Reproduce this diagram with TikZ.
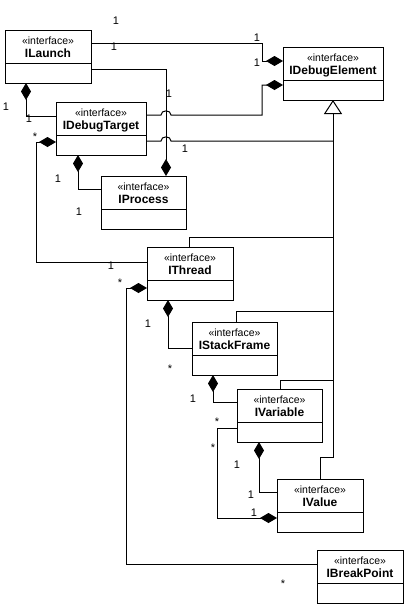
\documentclass[tikz,border=0pt]{standalone}
\usepackage{fontspec}
\setmainfont{Liberation Sans}
\usetikzlibrary{arrows.meta}
\tikzset{
  line/.style={line width=1pt},
  comp/.style={line, {Diamond[length=17pt,width=10pt,fill=black]}-},
  gen/.style={line, -{Triangle[open,length=14pt,width=18pt,fill=white]}},
  box/.style={draw, line width=1pt, minimum height=53pt, inner sep=0pt, outer sep=0pt, anchor=north west},
  stereo/.style={font=\fontsize{10.5}{12}\selectfont, anchor=base, inner sep=0pt},
  title/.style={font=\fontsize{12}{14}\selectfont\bfseries, anchor=base, inner sep=0pt},
  lbl/.style={font=\fontsize{11}{13}\selectfont, anchor=base, inner sep=0pt},
}
\newcommand\umlclass[5]{%
  \node[box, minimum width=#4] (#1) at (#2,#3) {};
  \node[stereo] (#1-s) at ([yshift=-14pt]#1.north) {«interface»};
  \node[title] (#1-t) at ([yshift=-27.5pt]#1.north) {#5};
  \draw[line] ([yshift=-33pt]#1.north west) -- ([yshift=-33pt]#1.north east);
}
\begin{document}
\begin{tikzpicture}[x=1pt,y=-1pt]
\useasboundingbox (0,0) rectangle (408,608);
% classes
\umlclass{L}{5}{30}{86pt}{ILaunch}
\umlclass{DT}{56}{102}{90pt}{IDebugTarget}
\umlclass{DE}{283}{47}{100pt}{IDebugElement}
\umlclass{P}{101}{176}{85pt}{IProcess}
\umlclass{T}{147}{247}{86pt}{IThread}
\umlclass{SF}{192}{322}{85pt}{IStackFrame}
\umlclass{V}{237}{389}{85pt}{IVariable}
\umlclass{VA}{277}{479}{86pt}{IValue}
\umlclass{BP}{317}{550}{86pt}{IBreakPoint}
% compositions
\draw[comp] (DE.west |- 0,61) -- (262,61) -- (262,43) -- (L.east |- 0,43);
\draw[comp] (DE.west |- 0,85) -- (262,85) -- (262,115) -- (171,115)
  .. controls (171,109.5) and (161,109.5) .. (161,115) -- (DT.east |- 0,115);
\draw[comp] (P.north -| 166,0) -- (166,69) -- (L.east |- 0,69);
\draw[comp] (L.south -| 26,0) -- (26,116) -- (DT.west |- 0,116);
\draw[comp] (DT.west |- 0,142) -- (36,142) -- (36,262) -- (T.west |- 0,262);
\draw[comp] (DT.south -| 78,0) -- (78,189) -- (P.west |- 0,189);
\draw[comp] (T.west |- 0,288) -- (126,288) -- (126,564) -- (BP.west |- 0,564);
\draw[comp] (T.south -| 168,0) -- (168,348) -- (SF.west |- 0,348);
\draw[comp] (SF.south -| 213,0) -- (213,402) -- (V.west |- 0,402);
\draw[comp] (VA.west |- 0,518) -- (217,518) -- (217,428) -- (V.west |- 0,428);
\draw[comp] (V.south -| 259,0) -- (259,492) -- (VA.west |- 0,492);
% generalizations
\draw[gen] (VA.north -| 320,0) -- (320,457) -- (333,457) -- (DE.south);
\draw[line] (DT.east |- 0,141) -- (161,141)
  .. controls (161,135.5) and (171,135.5) .. (171,141) -- (333,141);
\draw[line] (T.north -| 189,0) -- (189,237) -- (333,237);
\draw[line] (SF.north -| 236,0) -- (236,311) -- (333,311);
\draw[line] (V.north -| 280,0) -- (280,380) -- (333,380);
% multiplicities
\node[lbl] (m1) at (116,24) {1};
\node[lbl] (m2) at (114,50) {1};
\node[lbl] (m3) at (257,41) {1};
\node[lbl] (m4) at (257,66) {1};
\node[lbl] (m5) at (169,97) {1};
\node[lbl] (m6) at (185,152) {1};
\node[lbl] (m7) at (6,110) {1};
\node[lbl] (m8) at (29,122) {1};
\node[lbl] (m9) at (35,140) {*};
\node[lbl] (m10) at (58,182) {1};
\node[lbl] (m11) at (79,215) {1};
\node[lbl] (m12) at (111,269) {1};
\node[lbl] (m13) at (120,286) {*};
\node[lbl] (m14) at (148,327) {1};
\node[lbl] (m15) at (170,372) {*};
\node[lbl] (m16) at (193,402) {1};
\node[lbl] (m17) at (217,425) {*};
\node[lbl] (m18) at (213,451) {*};
\node[lbl] (m19) at (237,468) {1};
\node[lbl] (m20) at (251,498) {1};
\node[lbl] (m21) at (254,516) {1};
\node[lbl] (m22) at (283,587) {*};
\end{tikzpicture}
\end{document}
